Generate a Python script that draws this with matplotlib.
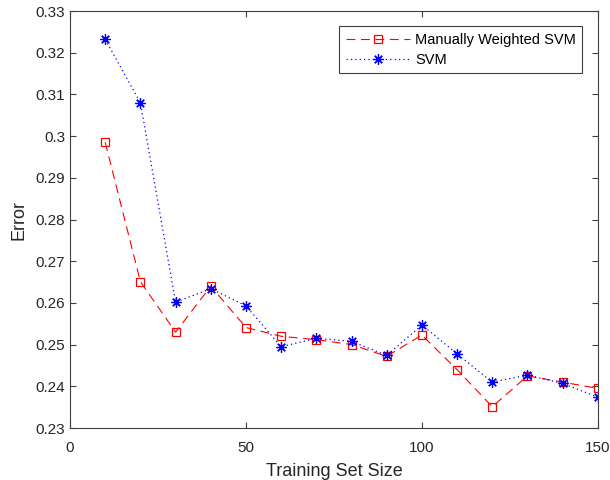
import matplotlib
matplotlib.use("Agg")
import matplotlib.pyplot as plt

plt.rcParams['font.family'] = ['Liberation Sans', 'DejaVu Sans']

sizes = [10, 20, 30, 40, 50, 60, 70, 80, 90, 100, 110, 120, 130, 140, 150]
mw_svm = [0.2985, 0.2651, 0.2530, 0.2640, 0.2541, 0.2520, 0.2512, 0.2500, 0.2472,
          0.2523, 0.2440, 0.2351, 0.2425, 0.2410, 0.2395]
svm = [0.3232, 0.3080, 0.2602, 0.2634, 0.2593, 0.2495, 0.2515, 0.2508, 0.2474,
       0.2547, 0.2478, 0.2410, 0.2427, 0.2407, 0.2374]

yticks = [0.23, 0.24, 0.25, 0.26, 0.27, 0.28, 0.29, 0.30, 0.31, 0.32, 0.33]
ylabels = ['0.23', '0.24', '0.25', '0.26', '0.27', '0.28', '0.29', '0.3', '0.31', '0.32', '0.33']
xticks = [0, 50, 100, 150]

fig = plt.figure(figsize=(6.1, 4.8), dpi=100)
ax = fig.add_axes([0.1148, 0.1083, 0.8652, 0.8687])

ax.plot(sizes, mw_svm, color='red', linestyle=(0, (8, 5)), linewidth=0.8,
        marker='s', markersize=6, markerfacecolor='none', markeredgewidth=0.9,
        label='Manually Weighted SVM')
ax.plot(sizes, svm, color='blue', linestyle=(0, (1, 2.5)), linewidth=0.9,
        marker=(8, 2, 0), markersize=7.5, markeredgewidth=0.9,
        label='SVM')

ax.set_xlim(0, 150)
ax.set_ylim(0.23, 0.33)
ax.set_xticks(xticks)
ax.set_yticks(yticks)
ax.set_yticklabels(ylabels)
ax.tick_params(direction='in', top=True, right=True, length=4, labelsize=11,
               color='#404040', labelcolor='#262626', width=0.8)
ax.tick_params(axis='x', pad=9)
for s in ax.spines.values():
    s.set_color('#404040')
    s.set_linewidth(0.8)

ax.set_xlabel('Training Set Size', fontsize=13, color='#262626', labelpad=6)
ax.set_ylabel('Error', fontsize=13, color='#262626', labelpad=6)

leg = ax.legend(loc='upper right', fontsize=10.5, fancybox=False, framealpha=1,
                edgecolor='#404040', borderaxespad=1.05, handlelength=4.4,
                borderpad=0.45, labelspacing=0.4, handletextpad=0.35)
leg.get_frame().set_linewidth(0.8)

fig.savefig('out.png', dpi=100)
